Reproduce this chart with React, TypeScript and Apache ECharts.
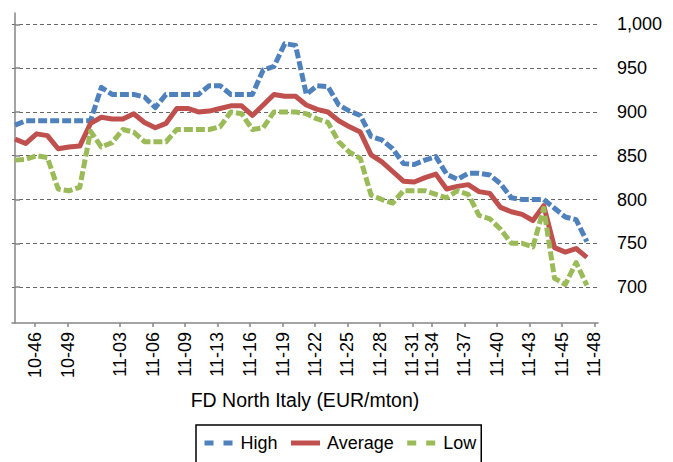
import React, { useEffect, useRef } from "react";
import * as echarts from "echarts";

// Weekly price assessments (EUR/mton), one value per week
const highValues = [885, 890, 890, 890, 890, 890, 890, 890, 928, 920, 920, 920, 917, 905, 920, 920, 920, 920, 930, 930, 920, 920, 920, 948, 952, 978, 976, 920, 930, 929, 908, 901, 896, 872, 868, 858, 841, 840, 845, 849, 829, 823, 830, 830, 828, 818, 802, 800, 800, 800, 790, 780, 777, 752];
const averageValues = [869, 864, 875, 873, 858, 860, 861, 887, 894, 892, 892, 898, 888, 882, 887, 904, 904, 900, 901, 904, 907, 907, 896, 908, 920, 918, 918, 908, 903, 900, 890, 883, 877, 851, 843, 832, 821, 820, 825, 829, 812, 815, 817, 809, 807, 791, 786, 783, 776, 793, 745, 740, 744, 734];
const lowValues = [845, 846, 850, 848, 812, 810, 814, 878, 860, 865, 880, 877, 866, 866, 866, 880, 880, 880, 880, 883, 900, 898, 880, 882, 900, 900, 900, 898, 892, 888, 866, 854, 847, 805, 800, 796, 810, 810, 810, 806, 802, 810, 806, 782, 778, 766, 750, 750, 746, 790, 710, 703, 728, 702];

// Category tick positions (in week-index units) and their labels
const tickPositions = [1.85, 4.88, 9.73, 12.76, 15.76, 18.75, 21.78, 24.81, 27.8, 30.8, 33.83, 36.82, 38.62, 41.64, 44.64, 47.66, 50.67, 53.69];
const tickLabels = ["10-46", "10-49", "11-03", "11-06", "11-09", "11-13", "11-16", "11-19", "11-22", "11-25", "11-28", "11-31", "11-34", "11-37", "11-40", "11-43", "11-45", "11-48"];
const yTicks = [700, 750, 800, 850, 900, 950, 1000];

const seriesNames = ["High", "Average", "Low"];
const seriesColors = ["#4F81BD", "#C0504D", "#9BBB59"];

const FONT = "'Liberation Sans', Arial, Helvetica, sans-serif";

function labelFor(v: number): string {
  let best = 0;
  let bestD = Infinity;
  tickPositions.forEach((p, i) => {
    const d = Math.abs(p - v);
    if (d < bestD) {
      bestD = d;
      best = i;
    }
  });
  return tickLabels[best];
}

export default function App() {
  const ref = useRef<HTMLDivElement>(null);

  useEffect(() => {
    if (!ref.current) return;
    const chart = echarts.init(ref.current, undefined, { renderer: "svg" });
    const toPairs = (arr: number[]) => arr.map((v, i) => [i, v]);
    const datasets = [highValues, averageValues, lowValues];
    const dashes: (number[] | "solid")[] = [[9, 3], "solid", [9, 3]];
    const legendDashes: (number[] | "solid")[] = [[9, 10], "solid", [9, 10]];

    chart.setOption({
      animation: false,
      backgroundColor: "#ffffff",
      textStyle: { fontFamily: FONT },
      grid: { left: 12, right: 75, top: 13, bottom: 139, containLabel: false },
      xAxis: {
        type: "value",
        min: -0.28,
        max: 54.03,
        axisLine: { show: true, onZero: false, lineStyle: { color: "#868686", width: 1.5 } },
        axisTick: {
          show: true,
          customValues: tickPositions,
          length: 4,
          lineStyle: { color: "#868686", width: 1.5 },
        },
        axisLabel: {
          customValues: tickPositions,
          rotate: 90,
          margin: 9,
          fontSize: 18,
          color: "#000",
          fontFamily: FONT,
          formatter: (v: number) => labelFor(v),
        },
        splitLine: { show: false },
        name: "FD North Italy (EUR/mton)",
        nameLocation: "middle",
        nameGap: 67,
        nameTextStyle: { fontSize: 19.5, color: "#000", fontFamily: FONT },
      },
      yAxis: {
        type: "value",
        position: "right",
        offset: 8,
        min: 659,
        max: 1013,
        axisLine: { show: true, lineStyle: { color: "#868686", width: 1.5 } },
        axisTick: {
          show: true,
          customValues: yTicks,
          length: 5,
          lineStyle: { color: "#868686", width: 1.5 },
        },
        axisLabel: {
          customValues: yTicks,
          margin: 11,
          fontSize: 18,
          color: "#000",
          fontFamily: FONT,
          formatter: (v: number) => v.toLocaleString("en-US"),
        },
        splitLine: {
          show: true,
          lineStyle: { type: [4, 3], color: "#666666", width: 1 },
        },
      },
      legend: {
        left: 196,
        top: 425,
        orient: "horizontal",
        borderColor: "#000",
        borderWidth: 1.5,
        padding: [9, 5, 16, 6],
        itemGap: 11,
        itemWidth: 29,
        itemHeight: 14,
        textStyle: { fontSize: 18, color: "#000", fontFamily: FONT, padding: [0, 0, 0, 2] },
        data: seriesNames.map((n, i) => ({
          name: n,
          itemStyle: { opacity: 0, borderWidth: 0 },
          lineStyle: { type: legendDashes[i], width: 5, color: seriesColors[i] },
        })),
      },
      series: datasets.map((arr, i) => ({
        name: seriesNames[i],
        type: "line",
        data: toPairs(arr),
        symbol: "none",
        showSymbol: false,
        color: seriesColors[i],
        lineStyle: {
          color: seriesColors[i],
          width: 5,
          type: dashes[i],
          cap: "butt",
          join: "round",
        },
      })),
    });

    return () => chart.dispose();
  }, []);

  return (
    <div
      ref={ref}
      style={{ position: "absolute", left: 0, top: 0, width: 673, height: 462 }}
    />
  );
}
